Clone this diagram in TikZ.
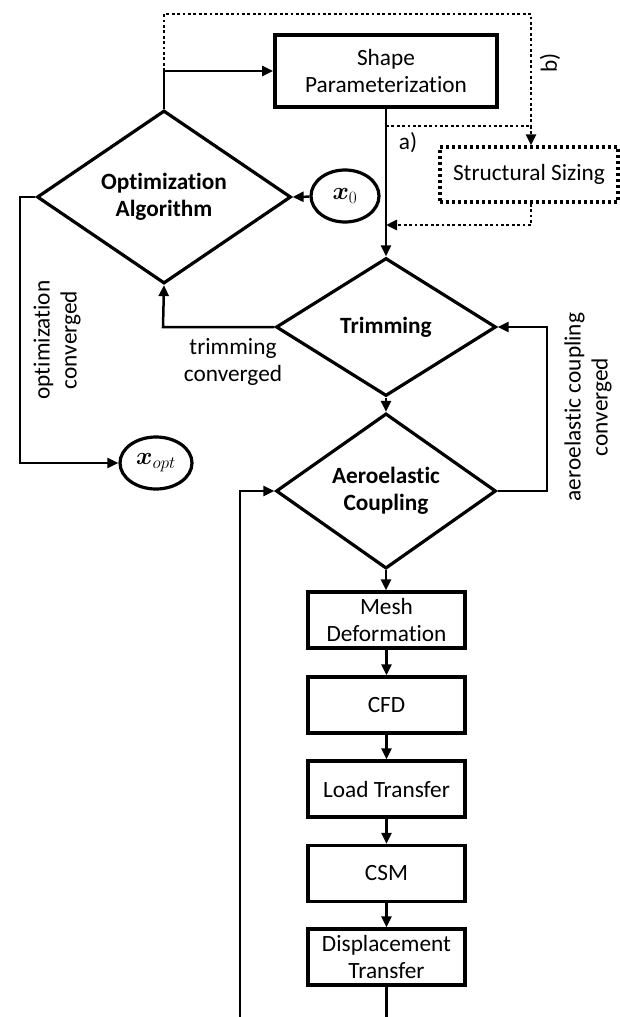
\documentclass[tikz,border=0pt]{standalone}
\usepackage{fontspec}
\setmainfont{Carlito}[Ligatures=NoCommon]
\usepackage{amsmath,bm}
\usetikzlibrary{shapes.geometric,arrows.meta}
\newcommand{\fs}{\fontsize{23.3}{27}\selectfont}
\newcommand{\fm}{\fontsize{27}{30}\selectfont}
\tikzset{
  box/.style={draw, line width=3.2pt, minimum width=157pt, minimum height=56pt, align=center, font=\fs, inner sep=0pt},
  dia/.style={draw, diamond, line width=3.2pt, align=center, font=\fs\bfseries, inner sep=0pt},
  ell/.style={draw, ellipse, line width=3.2pt, minimum width=68pt, minimum height=52pt, inner sep=0pt, font=\fm},
  tip/.style={-{Triangle[length=11pt,width=10pt]}},
  conn/.style={line width=2.5pt, tip},
  plain/.style={line width=2.5pt},
  dotc/.style={line width=2.8pt, dash pattern=on 2.8pt off 2.6pt},
  lbl/.style={font=\fs, align=center, inner sep=0pt}
}
\begin{document}
\begin{tikzpicture}[x=1pt,y=-1pt]
\useasboundingbox (0,0) rectangle (620,1017);
% nodes
\node[box, minimum width=222pt, minimum height=72pt, line width=3.6pt] (sp) at (386,71) {Shape\\Parameterization};
\node[draw, line width=3.4pt, dash pattern=on 3pt off 3pt, minimum width=178pt, minimum height=55pt, font=\fs, inner sep=0pt] (ss) at (529,174.5) {Structural Sizing};
\node[dia, minimum width=254pt, minimum height=164pt] (opt) at (164,197) {Optimization\\Algorithm};
\node[ell] (x0) at (345,196) {$\bm{x}_0$};
\node[dia, minimum width=220pt, minimum height=138pt] (trim) at (386,327) {Trimming};
\node[dia, minimum width=220pt, minimum height=138pt] (aero) at (386,491) {Aeroelastic\\Coupling};
\node[ell, minimum width=72pt] (xopt) at (156,463) {$\bm{x}_{opt}$};
\node[box] (mesh) at (386.5,620) {Mesh\\Deformation};
\node[box] (cfd) at (386.5,705) {CFD};
\node[box] (load) at (386.5,789) {Load Transfer};
\node[box] (csm) at (386.5,873.5) {CSM};
\node[box] (disp) at (386.5,957) {Displacement\\Transfer};
% coordinates
\coordinate (split) at (164,71);
\coordinate (topl) at (164,14);
\coordinate (topr) at (531,14);
\coordinate (aj) at (386,126);
\coordinate (ar) at (531,126);
\coordinate (sjoin) at (386,225);
\coordinate (bl) at (240,1017);
\coordinate (br) at (386,1017);
% connectors
\draw[plain] (opt.north) -- (split);
\draw[conn] (split) -- (sp.west |- split);
\draw[dotc] (split) -- (topl) -- (topr) -- (ar);
\draw[dotc, tip] (ar) -- (ss.north -| ar);
\draw[dotc] (aj) -- (ar);
\draw[dotc, tip] (ss.south -| ar) -- (531,225) -- (sjoin);
\draw[conn] (sp.south) -- (trim.north);
\draw[conn] (x0) -- (opt.east);
\draw[conn] (trim.west) -- (163,327) -- (opt.south);
\draw[conn] (opt.west) -- (20,197) -- (20,463) -- (xopt.west);
\draw[conn] (trim.south) -- (aero.north);
\draw[conn] (aero.east) -- (547,491) -- (547,327) -- (trim.east);
\draw[conn] (bl) -- (240,491) -- (aero.west);
\draw[conn] (aero.south) -- (mesh.north -| aero.south);
\draw[conn] (mesh.south) -- (cfd.north);
\draw[conn] (cfd.south) -- (load.north);
\draw[conn] (load.south) -- (csm.north);
\draw[conn] (csm.south) -- (disp.north);
\draw[plain] (disp.south) -- (br -| disp.south);
% labels
\node[lbl] (la) at (408,143) {a)};
\node[lbl, rotate=90] (lb) at (550,63) {b)};
\node[lbl] (ltc) at (233,362) {trimming\\converged};
\node[lbl, rotate=90] (loc) at (57,340) {optimization\\converged};
\node[lbl, rotate=90] (lac) at (588,407) {aeroelastic coupling\\converged};
\end{tikzpicture}
\end{document}
